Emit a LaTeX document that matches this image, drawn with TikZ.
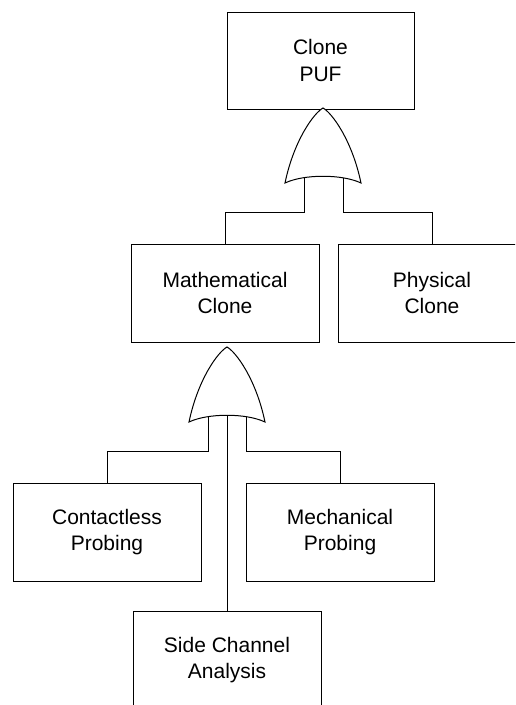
\documentclass[tikz,border=0pt]{standalone}
\usepackage{fontspec}
\setmainfont{Liberation Sans}
\begin{document}
\begin{tikzpicture}[x=1pt,y=-1pt,
  event/.style={draw, line width=1pt, fill=white, minimum width=188pt,
    minimum height=98pt, inner sep=0pt, align=center,
    font=\fontsize{21}{26.7}\selectfont},
  wire/.style={line width=1pt},
  orgate/.style={draw, line width=1pt, fill=white, line join=miter}]
\useasboundingbox (0,0) rectangle (515,705);
\clip (0,0) rectangle (515,705);

% OR gate drawn from its apex (#1,#2)
\newcommand\drawOrGate[2]{%
  \draw[orgate] (#1,#2)
    .. controls (#1+9,#2+5) and (#1+29,#2+32) .. (#1+38,#2+75)
    .. controls (#1+19,#2+66) and (#1-19,#2+66) .. (#1-38,#2+75)
    .. controls (#1-29,#2+32) and (#1-9,#2+5) .. (#1,#2) -- cycle;}

% events
\node[event, minimum width=187pt, minimum height=97pt] (puf) at (320.5,60.5) {Clone\\PUF};
\node[event] (math) at (225,293) {Mathematical\\Clone};
\node[event] (phys) at (432,293) {Physical\\Clone};
\node[event] (contact) at (107,532) {Contactless\\Probing};
\node[event] (mech) at (340,532) {Mechanical\\Probing};
\node[event] (side) at (227,660) {Side Channel\\Analysis};

% gate inputs and bus levels
\coordinate (g1l) at (304,170);
\coordinate (g1r) at (343,170);
\coordinate (bus1) at (0,212);
\coordinate (g2l) at (208,410);
\coordinate (g2m) at (227,410);
\coordinate (g2r) at (246,410);
\coordinate (bus2) at (0,451);

% connectors
\draw[wire] (g1l) -- (g1l |- bus1) -| (math.north);
\draw[wire] (g1r) -- (g1r |- bus1) -| (phys.north);
\draw[wire] (g2l) -- (g2l |- bus2) -| (contact.north);
\draw[wire] (g2r) -- (g2r |- bus2) -| (mech.north);
\draw[wire] (g2m) -- (side.north);

% gates
\drawOrGate{323}{108}
\drawOrGate{227}{347}
\end{tikzpicture}
\end{document}
